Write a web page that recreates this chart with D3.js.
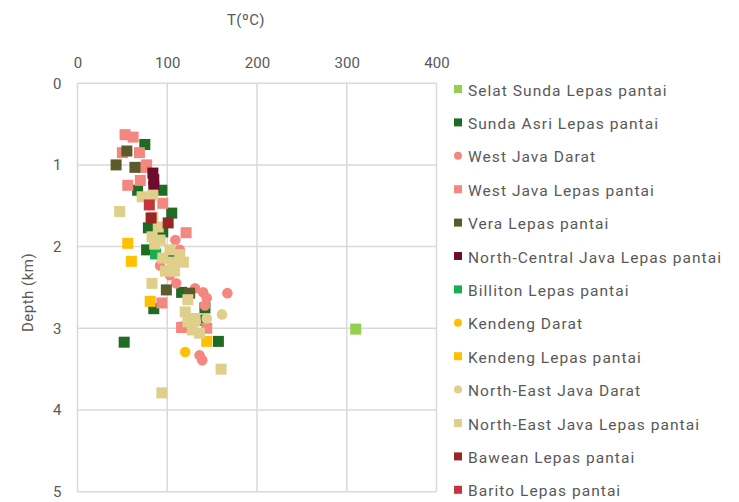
<!DOCTYPE html>
<html><head><meta charset="utf-8">
<script src="https://cdn.jsdelivr.net/npm/d3@7/dist/d3.min.js"></script>
<style>
html,body{margin:0;padding:0;background:#fff;}
text{font-family:Roboto,"Noto Sans",sans-serif;fill:#595959;}
</style></head>
<body><svg id="chart" width="739" height="502"></svg>
<script>
const xTicks = [0,100,200,300,400];
const yTicks = [0,1,2,3,4,5];
const seriesNames = ["Selat Sunda Lepas pantai","Sunda Asri Lepas pantai","West Java Darat","West Java Lepas pantai","Vera Lepas pantai","North-Central Java Lepas pantai","Billiton Lepas pantai","Kendeng Darat","Kendeng Lepas pantai","North-East Java Darat","North-East Java Lepas pantai","Bawean Lepas pantai","Barito Lepas pantai"];
const seriesColors = ["#92d050","#1e6b24","#f4877f","#f4877f","#5b5a2b","#6d0d2c","#16b04f","#ffc000","#ffc000","#dfcf8b","#dfcf8b","#992525","#c8343c"];
const seriesShapes = ["square","square","circle","square","square","square","square","circle","square","circle","square","square","square"];

// [T (°C), depth (km)]
const selatSunda = [[310,3.01]];
const sundaAsri = [[75,0.75],[67,1.31],[94,1.31],[105,1.59],[79,1.77],[95,1.82],[77,2.04],[106,2.13],[116,2.56],[85,2.76],[142,2.75],[136,2.90],[52,3.17],[157,3.16]];
const westJavaDarat = [[109,1.92],[114,2.04],[92,2.23],[103,2.35],[110,2.45],[131,2.51],[140,2.56],[144,2.63],[167,2.57],[142,2.72],[116,2.98],[136,3.33],[139,3.39]];
const westJavaLepas = [[53,0.63],[62,0.66],[50,0.85],[69,0.85],[73,1.03],[77,1.00],[70,1.19],[56,1.25],[95,1.47],[121,1.83],[94,2.69],[116,2.99],[144,3.00]];
const vera = [[55,0.83],[43,1.00],[64,1.03],[99,2.53],[125,2.57]];
const northCentralJava = [[84,1.10],[85,1.18],[85,1.27]];
const billiton = [[87,2.09]];
const kendengDarat = [[120,3.29]];
const kendengLepas = [[56,1.96],[60,2.18],[81,2.67],[144,3.16]];
const northEastJavaDarat = [[161,2.83],[144,2.88],[132,2.92]];
const northEastJavaLepas = [[72,1.39],[84,1.37],[47,1.57],[84,1.64],[90,1.76],[83,1.88],[86,1.97],[92,1.92],[95,2.14],[106,2.19],[118,2.19],[103,2.04],[114,2.10],[98,2.30],[108,2.30],[83,2.45],[123,2.65],[120,2.80],[131,2.88],[123,2.92],[128,3.02],[136,3.06],[160,3.50],[94,3.79]];
const bawean = [[82,1.65],[101,1.71]];
const barito = [[80,1.49]];

const seriesData = [selatSunda,sundaAsri,westJavaDarat,westJavaLepas,vera,northCentralJava,billiton,kendengDarat,kendengLepas,northEastJavaDarat,northEastJavaLepas,bawean,barito];

const svg = d3.select("#chart");
const x = d3.scaleLinear().domain([0,400]).range([77.5,436.5]);
const y = d3.scaleLinear().domain([0,5]).range([83.2,491.7]);

// grid
const g = svg.append("g");
g.selectAll(".vg").data(xTicks).join("line")
  .attr("x1",d=>x(d)).attr("x2",d=>x(d)).attr("y1",y(0)).attr("y2",y(5))
  .attr("stroke","#d9d9d9").attr("stroke-width",1.5);
g.selectAll(".hg").data(yTicks).join("line")
  .attr("y1",d=>y(d)).attr("y2",d=>y(d)).attr("x1",x(0)).attr("x2",x(400))
  .attr("stroke","#d9d9d9").attr("stroke-width",1.5);

// axes labels
const xAxis = d3.axisTop(x).tickValues(xTicks).tickFormat(d3.format("d")).tickSize(0).tickPadding(0);
const gx = svg.append("g").attr("transform",`translate(0,${y(0)-15})`).call(xAxis);
gx.select(".domain").remove();
gx.selectAll("text").attr("font-size",15).attr("fill","#7f7f7f").style("font-family","Roboto");
const yAxis = d3.axisLeft(y).tickValues(yTicks).tickFormat(d3.format("d")).tickSize(0).tickPadding(0);
const gy = svg.append("g").attr("transform",`translate(${x(0)-16},0)`).call(yAxis);
gy.select(".domain").remove();
gy.selectAll("text").attr("font-size",15).attr("fill","#7f7f7f").style("font-family","Roboto");

svg.append("text").attr("x",246).attr("y",25).attr("text-anchor","middle")
  .attr("font-size",15).attr("fill","#7f7f7f").style("letter-spacing","0.5px").text("T(ºC)");
svg.append("text").attr("transform",`translate(33,${(y(0)+y(5))/2+5}) rotate(-90)`)
  .attr("text-anchor","middle").attr("font-size",15).attr("fill","#7f7f7f").style("letter-spacing","0.5px").text("Depth (km)");

// points
const sq = 11, r = 5.3;
seriesData.forEach((data,i)=>{
  const col = seriesColors[i];
  const gg = svg.append("g");
  if(seriesShapes[i]==="square"){
    gg.selectAll("rect").data(data).join("rect")
      .attr("x",d=>x(d[0])-sq/2).attr("y",d=>y(d[1])-sq/2)
      .attr("width",sq).attr("height",sq).attr("fill",col);
  } else {
    gg.selectAll("circle").data(data).join("circle")
      .attr("cx",d=>x(d[0])).attr("cy",d=>y(d[1])).attr("r",r).attr("fill",col);
  }
});

// legend
const lg = svg.append("g");
seriesNames.forEach((name,i)=>{
  const cy = 89 + i*33.4;
  if(seriesShapes[i]==="square"){
    lg.append("rect").attr("x",454).attr("y",cy-4).attr("width",8).attr("height",8).attr("fill",seriesColors[i]);
  } else {
    lg.append("circle").attr("cx",458).attr("cy",cy).attr("r",4).attr("fill",seriesColors[i]);
  }
  lg.append("text").attr("x",468).attr("y",cy+6.5).attr("font-size",15.5)
    .style("letter-spacing","1.05px").attr("fill","#595959").text(name);
});
</script></body></html>
